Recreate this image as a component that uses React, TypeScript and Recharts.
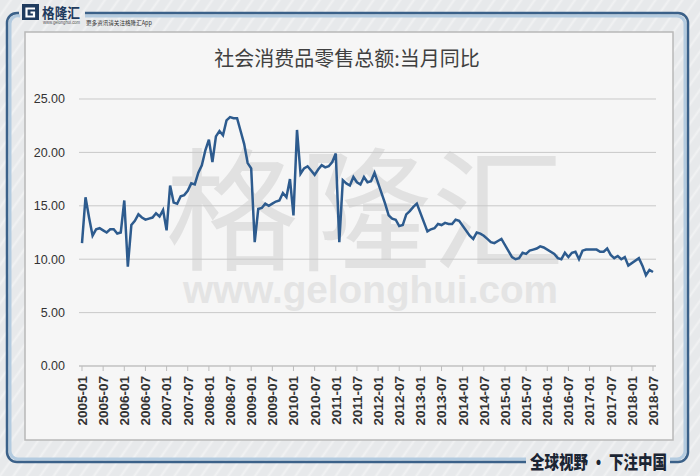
import React from 'react';
import { LineChart, Line, XAxis, YAxis, CartesianGrid } from 'recharts';

const years = ['2005','2006','2007','2008','2009','2010','2011','2012','2013','2014','2015','2016','2017','2018'];
const months = ['01','02','03','04','05','06','07','08','09','10','11','12'];

const v2005 = [11.5, 15.8, 13.9, 12.2, 12.8, 12.9, 12.7, 12.5, 12.8, 12.8, 12.4, 12.5];
const v2006 = [15.5, 9.3, 13.2, 13.6, 14.2, 13.9, 13.7, 13.8, 13.9, 14.3, 14.0, 14.6];
const v2007 = [12.7, 16.9, 15.3, 15.2, 15.9, 16.0, 16.4, 17.1, 17.0, 18.1, 18.8, 20.2];
const v2008 = [21.2, 19.1, 21.5, 22.0, 21.6, 23.0, 23.3, 23.2, 23.2, 22.0, 20.8, 19.0];
const v2009 = [18.5, 11.6, 14.7, 14.8, 15.2, 15.0, 15.2, 15.4, 15.5, 16.2, 15.8, 17.5];
const v2010 = [14.1, 22.1, 18.0, 18.5, 18.7, 18.3, 17.9, 18.4, 18.8, 18.6, 18.7, 19.1];
const v2011 = [19.9, 11.6, 17.4, 17.1, 16.9, 17.7, 17.2, 17.0, 17.7, 17.2, 17.3, 18.1];
const v2012 = [null, null, 15.2, 14.1, 13.8, 13.7, 13.1, 13.2, 14.2, 14.5, 14.9, 15.2];
const v2013 = [null, null, 12.6, 12.8, 12.9, 13.3, 13.2, 13.4, 13.3, 13.3, 13.7, 13.6];
const v2014 = [null, null, 12.2, 11.9, 12.5, 12.4, 12.2, 11.9, 11.6, 11.5, 11.7, 11.9];
const v2015 = [null, null, 10.2, 10.0, 10.1, 10.6, 10.5, 10.8, 10.9, 11.0, 11.2, 11.1];
const v2016 = [null, null, 10.5, 10.1, 10.0, 10.6, 10.2, 10.6, 10.7, 10.0, 10.8, 10.9];
const v2017 = [null, null, 10.9, 10.7, 10.7, 11.0, 10.4, 10.1, 10.3, 10.0, 10.2, 9.4];
const v2018 = [null, null, 10.1, 9.4, 8.5, 9.0, 8.8];

const yTicks = [0, 5, 10, 15, 20, 25];

const yearValues = [v2005, v2006, v2007, v2008, v2009, v2010, v2011, v2012, v2013, v2014, v2015, v2016, v2017, v2018];

const data: { month: string; value: number | null }[] = [];
yearValues.forEach((arr, yi) => {
  arr.forEach((v, mi) => {
    data.push({ month: `${years[yi]}-${months[mi]}`, value: v });
  });
});

const XTick = (props: any) => {
  const { x, y, payload } = props;
  return (
    <text
      x={-3}
      y={0}
      transform={`translate(${x},${y}) rotate(-90)`}
      textAnchor="end"
      dy="0.36em"
      fontFamily="Liberation Sans, Arial, sans-serif"
      fontSize={13.5}
      fontWeight="bold"
      fill="#333"
    >
      {payload.value}
    </text>
  );
};

const darkBlue = '#3b6189';
const lightBlue = '#b3cbe0';

export default function App() {
  return (
    <div
      style={{
        position: 'absolute',
        left: 0,
        top: 0,
        width: 700,
        height: 476,
        overflow: 'hidden',
        background:
          'repeating-linear-gradient(125deg, #e7e9eb 0px, #e7e9eb 7px, #f1f2f3 9px, #e7e9eb 11px)',
      }}
    >
      <svg width={700} height={476} style={{ position: 'absolute', left: 0, top: 0 }}>
        {/* inner panel */}
        <rect x={25} y={32} width={648} height={408} fill="#f6f6f6" stroke="#b8b8b8" strokeWidth={1.5} />
        {/* outer frame - light inner line */}
        <path d="M19 16 H20 A8 8 0 0 0 10 24 V451 A8 8 0 0 0 18 459 H526" fill="none" stroke={lightBlue} strokeWidth={3} />
        <path d="M670 459 H677 A8 8 0 0 0 685 451 V24 A8 8 0 0 0 677 16 H85" fill="none" stroke={lightBlue} strokeWidth={3} />
        {/* outer frame - dark line */}
        <path d="M19 13 H17 A10 10 0 0 0 7 23 V452 A10 10 0 0 0 17 462 H526" fill="none" stroke={darkBlue} strokeWidth={2.5} />
        <path d="M670 462 H678 A10 10 0 0 0 688 452 V23 A10 10 0 0 0 678 13 H85" fill="none" stroke={darkBlue} strokeWidth={2.5} />
        {/* logo */}
        <rect x={22} y={4} width={17} height={16} fill="#1f3b5e" />
        <path d="M35 8.5 H26.5 V16.5 H34 V12.5 H30.5" fill="none" stroke="#ffffff" strokeWidth={2.2} />
        <text x={42} y={17.5} fontFamily="Noto Sans CJK SC" fontWeight="bold" fontSize={14} fill="#1f3b5e" textLength={38} lengthAdjust="spacingAndGlyphs">格隆汇</text>
        <text x={43} y={24} fontFamily="Liberation Sans" fontSize={4.5} fill="#555" textLength={37} lengthAdjust="spacingAndGlyphs">www.gelonghui.com</text>
        <text x={86} y={25} fontFamily="Noto Sans CJK SC" fontSize={6.2} fill="#333" textLength={66} lengthAdjust="spacingAndGlyphs">更多资讯请关注格隆汇App</text>
        {/* watermark */}
        <text x={365} y={260} textAnchor="middle" fontFamily="Noto Sans CJK SC" fontSize={133} fill="#e1e1e1">格隆汇</text>
        <text x={183} y={303} fontFamily="Liberation Sans" fontWeight="bold" fontSize={38.5} fill="#e4e4e4" textLength={375} lengthAdjust="spacingAndGlyphs">www.gelonghui.com</text>
        {/* title */}
        <text x={347} y={66} textAnchor="middle" fontFamily="Noto Sans CJK SC" fontSize={20} fill="#404040">社会消费品零售总额:当月同比</text>
        {/* bottom slogan */}
        <text x={530} y={469} fontFamily="Noto Sans CJK SC" fontWeight="900" fontSize={18.5} fill="#1b2533" textLength={137} lengthAdjust="spacingAndGlyphs">全球视野 · 下注中国</text>
      </svg>
      <div style={{ position: 'absolute', left: 0, top: 0 }}>
        <LineChart width={700} height={476} data={data} margin={{ top: 99, right: 44, bottom: 40, left: 19 }}>
          <CartesianGrid vertical={false} stroke="#c9c9c9" strokeWidth={1} />
          <XAxis
            dataKey="month"
            scale="point"
            interval={5}
            padding={{ left: 3, right: 3 }}
            height={70}
            tick={<XTick />}
            tickSize={5}
            tickMargin={2}
            axisLine={{ stroke: '#bdbdbd' }}
            tickLine={{ stroke: '#bdbdbd' }}
          />
          <YAxis
            domain={[0, 25]}
            ticks={yTicks}
            width={60}
            axisLine={false}
            tickLine={false}
            tickMargin={8}
            tickFormatter={(v: number) => v.toFixed(2)}
            tick={{ fontFamily: 'Liberation Sans, Arial, sans-serif', fontSize: 12.5, fill: '#333' }}
          />
          <Line
            type="linear"
            dataKey="value"
            stroke="#2d5b8e"
            strokeWidth={2.5}
            dot={false}
            connectNulls
            isAnimationActive={false}
          />
        </LineChart>
      </div>
    </div>
  );
}
